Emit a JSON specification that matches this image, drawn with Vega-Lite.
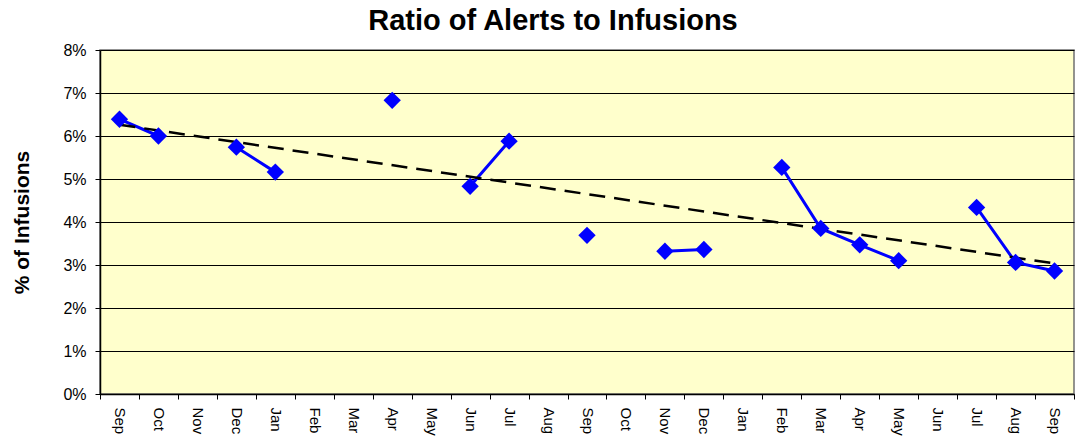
{
  "$schema": "https://vega.github.io/schema/vega-lite/v6.json",
  "width": 974,
  "height": 344,
  "autosize": "none",
  "padding": {"left": 100, "top": 50, "right": 2, "bottom": 45},
  "background": "white",
  "title": {
    "text": "Ratio of Alerts to Infusions",
    "font": "Liberation Sans",
    "fontSize": 29,
    "fontWeight": "bold",
    "color": "black",
    "anchor": "middle",
    "dx": -34,
    "offset": 6
  },
  "config": {
    "view": {"fill": "#FFFFCC", "stroke": "#707070", "strokeWidth": 1.5},
    "axis": {
      "labelFont": "Liberation Sans",
      "titleFont": "Liberation Sans",
      "labelColor": "black",
      "titleColor": "black",
      "domainColor": "black",
      "tickColor": "black"
    }
  },
  "data": {
    "values": [
      {"idx": 0, "month": "Sep", "value": 0.0639},
      {"idx": 1, "month": "Oct", "value": 0.0600},
      {"idx": 2, "month": "Nov", "value": null},
      {"idx": 3, "month": "Dec", "value": 0.0574},
      {"idx": 4, "month": "Jan", "value": 0.0516},
      {"idx": 5, "month": "Feb", "value": null},
      {"idx": 6, "month": "Mar", "value": null},
      {"idx": 7, "month": "Apr", "value": 0.0683},
      {"idx": 8, "month": "May", "value": null},
      {"idx": 9, "month": "Jun", "value": 0.0483},
      {"idx": 10, "month": "Jul", "value": 0.0588},
      {"idx": 11, "month": "Aug", "value": null},
      {"idx": 12, "month": "Sep", "value": 0.0369},
      {"idx": 13, "month": "Oct", "value": null},
      {"idx": 14, "month": "Nov", "value": 0.0332},
      {"idx": 15, "month": "Dec", "value": 0.0336},
      {"idx": 16, "month": "Jan", "value": null},
      {"idx": 17, "month": "Feb", "value": 0.0527},
      {"idx": 18, "month": "Mar", "value": 0.0385},
      {"idx": 19, "month": "Apr", "value": 0.0347},
      {"idx": 20, "month": "May", "value": 0.0310},
      {"idx": 21, "month": "Jun", "value": null},
      {"idx": 22, "month": "Jul", "value": 0.0434},
      {"idx": 23, "month": "Aug", "value": 0.0306},
      {"idx": 24, "month": "Sep", "value": 0.0286}
    ]
  },
  "encoding": {
    "x": {
      "field": "idx",
      "type": "ordinal",
      "scale": {
        "type": "band",
        "domain": [0,1,2,3,4,5,6,7,8,9,10,11,12,13,14,15,16,17,18,19,20,21,22,23,24],
        "paddingInner": 0,
        "paddingOuter": 0
      },
      "axis": {
        "title": null,
        "labelExpr": "['Sep','Oct','Nov','Dec','Jan','Feb','Mar','Apr','May','Jun','Jul','Aug','Sep','Oct','Nov','Dec','Jan','Feb','Mar','Apr','May','Jun','Jul','Aug','Sep'][datum.value]",
        "labelAngle": 90,
        "labelAlign": "left",
        "labelBaseline": "middle",
        "labelFontSize": 15,
        "labelPadding": 8,
        "tickBand": "extent",
        "tickSize": 5,
        "grid": false,
        "domainWidth": 1.5
      }
    },
    "y": {
      "field": "value",
      "type": "quantitative",
      "scale": {"domain": [0, 0.08], "nice": false, "zero": true},
      "axis": {
        "title": "% of Infusions",
        "titleFontSize": 21,
        "titleFontWeight": "bold",
        "titlePadding": 30,
        "format": ".0%",
        "values": [0, 0.01, 0.02, 0.03, 0.04, 0.05, 0.06, 0.07, 0.08],
        "labelFontSize": 16,
        "labelPadding": 9,
        "tickSize": 5,
        "grid": true,
        "gridColor": "black",
        "gridWidth": 1,
        "gridOpacity": 1,
        "domainWidth": 1.5
      }
    }
  },
  "layer": [
    {
      "mark": {"type": "line", "color": "#0000FF", "strokeWidth": 3}
    },
    {
      "transform": [
        {"filter": "datum.value != null"},
        {"regression": "value", "on": "idx"}
      ],
      "mark": {"type": "line", "color": "black", "strokeWidth": 2.5, "strokeDash": [16, 9]}
    },
    {
      "transform": [{"filter": "datum.value != null"}],
      "mark": {"type": "point", "shape": "diamond", "filled": true, "color": "#0000FF", "size": 300, "opacity": 1}
    }
  ]
}
